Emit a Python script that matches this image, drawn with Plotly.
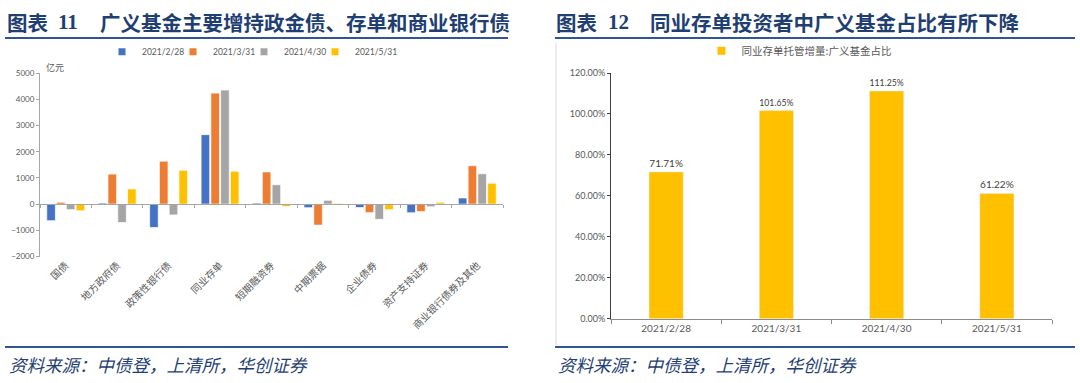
import plotly.graph_objects as go

# ---------------- data ----------------
categories = ["国债", "地方政府债", "政策性银行债", "同业存单", "短期融资券",
              "中期票据", "企业债券", "资产支持证券", "商业银行债券及其他"]
series_names = ["2021/2/28", "2021/3/31", "2021/4/30", "2021/5/31"]
v_feb = [-630, 40, -890, 2650, 40, -135, -130, -330, 235]
v_mar = [75, 1145, 1640, 4235, 1230, -800, -325, -285, 1465]
v_apr = [-210, -700, -410, 4350, 740, 150, -580, -100, 1160]
v_may = [-250, 580, 1290, 1255, -90, 30, -215, 75, 800]
left_values = [v_feb, v_mar, v_apr, v_may]
left_colors = ["#4472C4", "#ED7D31", "#A5A5A5", "#FFC000"]
left_ticks = [5000, 4000, 3000, 2000, 1000, 0, -1000, -2000]

dates = ["2021/2/28", "2021/3/31", "2021/4/30", "2021/5/31"]
share = [71.71, 101.65, 111.25, 61.22]
right_name = "同业存单托管增量:广义基金占比"
right_ticks = [0, 20, 40, 60, 80, 100, 120]

W, H = 1080, 383
def px(x):
    return x / W
def py(y):
    return 1 - y / H

LAT = "Lato, Noto Sans CJK SC"
TICKFONT = dict(family=LAT, size=8, color="#595959")
TITLE_COLOR = "#1F3F73"
LINE_COLOR = "#2F5597"

fig = go.Figure()

# ---------- left chart ----------
n_series = len(series_names)
for i, (name, vals, col) in enumerate(zip(series_names, left_values, left_colors)):
    fig.add_trace(go.Bar(
        x=categories, y=vals, name=name, xaxis="x", yaxis="y",
        marker=dict(color=col, line=dict(color="rgba(255,255,255,0.7)", width=1)),
        showlegend=False,
    ))
    # legend proxy with small square symbol
    fig.add_trace(go.Scatter(
        x=[None], y=[None], name=name, xaxis="x", yaxis="y", mode="markers",
        marker=dict(symbol="square", size=7, color=col), legend="legend",
        legendwidth=46 if i == n_series - 1 else None,
    ))
# invisible helper trace for the zero-line axis with boundary ticks
fig.add_trace(go.Scatter(x=categories, y=[0] * len(categories), xaxis="x2", yaxis="y",
                         mode="markers", marker=dict(opacity=0), showlegend=False,
                         hoverinfo="skip"))

# ---------- right chart ----------
fig.add_trace(go.Bar(
    x=dates, y=share, name=right_name, xaxis="x3", yaxis="y3",
    marker=dict(color="#FFC000"), width=0.31,
    text=[f"{v:.2f}%" for v in share], textposition="outside",
    textfont=dict(family=LAT, size=10, color="#404040"),
    cliponaxis=False, showlegend=False,
))
fig.add_trace(go.Scatter(
    x=[None], y=[None], name=right_name, xaxis="x3", yaxis="y3", mode="markers",
    marker=dict(symbol="square", size=8, color="#FFC000"), legend="legend2",
))

ldom_x = [px(40), px(503)]
ldom_y = [py(258), py(69)]
rdom_x = [px(611), px(1052)]
rdom_y = [py(322), py(69)]
zero_pos = ldom_y[0] + (ldom_y[1] - ldom_y[0]) * 2 / 7

fig.update_layout(
    width=W, height=H,
    margin=dict(l=0, r=0, t=0, b=0),
    paper_bgcolor="white", plot_bgcolor="white",
    barmode="group", bargap=0.24, bargroupgap=0.12,
    font=dict(family=LAT, color="#595959"),
    xaxis=dict(domain=ldom_x, anchor="y", type="category", categoryarray=categories,
               range=[-0.5, 8.5], showline=False, ticks="", tickangle=-45,
               tickfont=dict(family="Noto Sans CJK SC", size=10, color="#595959"),
               showgrid=False, fixedrange=True),
    xaxis2=dict(overlaying="x", anchor="free", position=zero_pos, type="category",
                categoryarray=categories, range=[-0.5, 8.5], showline=True,
                linecolor="#A6A6A6", linewidth=1, ticks="outside", tickson="boundaries",
                ticklen=3, tickcolor="#A6A6A6", showticklabels=False, showgrid=False),
    yaxis=dict(domain=ldom_y, anchor="x", range=[-2000, 5000], tickvals=left_ticks,
               showline=True, linecolor="#A6A6A6", linewidth=1, ticks="outside",
               ticklen=3, tickcolor="#A6A6A6", tickfont=TICKFONT,
               showgrid=False, zeroline=False),
    xaxis3=dict(domain=rdom_x, anchor="y3", type="category", categoryarray=dates,
                range=[-0.5, 3.5], showline=True, linecolor="#8C8C8C", linewidth=1,
                ticks="outside", tickson="boundaries", ticklen=4, tickcolor="#8C8C8C",
                tickfont=dict(TICKFONT, size=10), showgrid=False),
    yaxis3=dict(domain=rdom_y, anchor="x3", range=[0, 120], tickvals=right_ticks,
                ticktext=[f"{t:.2f}%" for t in right_ticks], showline=True,
                linecolor="#404040", linewidth=1, ticks="outside", ticklen=3,
                tickcolor="#404040", tickfont=dict(TICKFONT, size=9), showgrid=False,
                zeroline=False),
    legend=dict(orientation="h", x=px(254), y=py(47), xanchor="center", yanchor="middle",
                font=dict(family="Lato", size=8.5, color="#595959"),
                itemwidth=30, entrywidth=26, entrywidthmode="pixels",
                bgcolor="rgba(0,0,0,0)"),
    legend2=dict(orientation="h", x=px(799), y=py(46), xanchor="center", yanchor="middle",
                 font=dict(family="Noto Sans CJK SC", size=10.5, color="#595959"),
                 itemwidth=30, bgcolor="rgba(0,0,0,0)"),
    showlegend=True,
)

# ---------- titles, source, decorative lines ----------
def ann(x, y, text, font, xanchor="left"):
    fig.add_annotation(x=px(x), y=py(y), xref="paper", yref="paper", xanchor=xanchor,
                       yanchor="middle", showarrow=False, text=text, font=font)

TFONT = dict(family="Noto Sans CJK SC", size=20.5, color=TITLE_COLOR)
NFONT = dict(family="Liberation Serif", size=21, color=TITLE_COLOR)
for (x_lbl, x_num, x_txt, num, txt) in (
        (5, 56, 98, "11", "广义基金主要增持政金债、存单和商业银行债"),
        (554, 606, 648, "12", "同业存单投资者中广义基金占比有所下降")):
    ann(x_lbl, 16, "<b>图表</b>", TFONT)
    ann(x_num, 16, f"<b>{num}</b>", NFONT)
    ann(x_txt, 16, f"<b>{txt}</b>", TFONT)

for x0 in (7, 556):
    ann(x0, 369, "<i>资料来源：中债登，上清所，华创证券</i>",
        dict(family="Noto Sans CJK SC", size=17.5, color=TITLE_COLOR))

ann(44, 63, "亿元", dict(family="Noto Sans CJK SC", size=9, color="#595959"))

for (x0, x1) in ((5, 508), (555, 1075)):
    for yy in (33, 351):
        fig.add_shape(type="line", xref="paper", yref="paper", x0=px(x0), x1=px(x1),
                      y0=py(yy), y1=py(yy), line=dict(color=LINE_COLOR, width=2))
fig.add_shape(type="line", xref="paper", yref="paper", x0=px(556), x1=px(556),
              y0=py(38), y1=py(349), line=dict(color="#D9D9D9", width=1))

fig.write_html(
    "out.html",
    config={"displayModeBar": False},
    post_script="document.body.style.margin='0';document.body.style.overflow='hidden';",
)
